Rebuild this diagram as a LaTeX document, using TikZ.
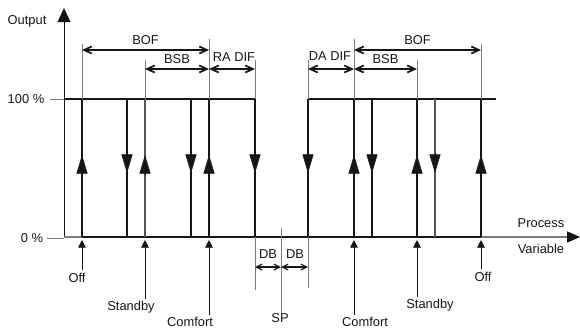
\documentclass[tikz,border=0pt]{standalone}
\usepackage{fontspec}
\setmainfont{Liberation Sans}
\usetikzlibrary{arrows.meta,calc}
\definecolor{inkblack}{RGB}{22,22,22}
\definecolor{guidegrey}{RGB}{125,125,125}

\begin{document}
\begin{tikzpicture}[x=0.03cm, y=-0.03cm,
  lbl/.style={font=\fontsize{11}{13}\selectfont, inner sep=0pt, text=inkblack},
  heavy/.style={line width=2.5pt, inkblack},
  guide/.style={line width=0.6pt, guidegrey},
  axisline/.style={line width=0.7pt, inkblack},
  dim/.style={{Straight Barb[length=6.5pt,width=6pt]}-{Straight Barb[length=6.5pt,width=6pt]},
              line width=1.5pt, inkblack},
  head/.style={-{Triangle[length=16pt,width=9.5pt]}, line width=0.4pt, inkblack},
  pin/.style={-{Triangle[length=6.5pt,width=6.5pt]}, line width=0.6pt, inkblack},
]
\useasboundingbox (0,0) rectangle (580,331);

% ---- axes ----
\coordinate (org) at (64,237);
\coordinate (ytop) at (64,8);
\coordinate (xend) at (580,237);
\draw[axisline, -{Triangle[length=12pt,width=11pt]}] (org) -- (ytop);
\draw[guide, line width=1pt, -{Triangle[length=11pt,width=9.5pt, inkblack]}] (org) -- (xend);

\node[lbl] (out)  at (27,21)  {Output};
\node[lbl] (full) at (26,99)  {100 \%};
\node[lbl] (zero) at (32,238) {0 \%};
\draw[guide] ($(full.east)+(5,0)$) -- (full.east -| org);
\draw[guide] ($(zero.east)+(4,0)$) -- (zero.east -| org);

\node[lbl] (pv)  at (541,223) {Process};
\node[lbl] (var) at (541,249) {Variable};

% ---- output levels ----
\draw[heavy] (64,99) -- (255,99);
\draw[heavy] (308,99) -- (496,99);
\draw[heavy] (82,237) -- (481,237);

% ---- switching lines: up = switch on, down = switch off ----
\foreach \x/\w/\c in {82/2.2pt/inkblack, 145/1.4pt/guidegrey!60!inkblack, 209/2.2pt/inkblack,
                      354/2.2pt/inkblack, 417/2.2pt/inkblack, 481/2.2pt/inkblack} {
  \draw[line width=\w, \c] (\x,237) -- (\x,99);
  \draw[head] (\x,175) -- (\x,155);
}
\foreach \x/\w/\c in {127/2pt/inkblack, 191/2pt/inkblack, 255/2pt/inkblack,
                      308/2.2pt/inkblack, 372/2pt/inkblack, 435/1.4pt/guidegrey!60!inkblack} {
  \draw[line width=\w, \c] (\x,99) -- (\x,237);
  \draw[head] (\x,153) -- (\x,173);
}

% ---- extension lines above the 100 % level ----
\foreach \x/\t in {82/44, 145/60, 209/39, 255/60, 308/60, 354/39, 417/60, 481/44}
  \draw[guide] (\x,99) -- (\x,\t);

% ---- band dimensions ----
\draw[dim] (82,50) -- node[lbl, above=4pt] (bofL) {BOF} (209,50);
\draw[dim] (145,69) -- node[lbl, above=4pt] (bsbL) {BSB} (209,69);
\draw[dim] (209,69) -- (255,69);
\node[lbl] (radif) at (234,57) {RA DIF};
\draw[dim] (308,69) -- (354,69);
\node[lbl] (dadif) at (330,56) {DA DIF};
\draw[dim] (354,69) -- node[lbl, above=4pt] (bsbR) {BSB} (417,69);
\draw[dim] (354,50) -- node[lbl, above=4pt] (bofR) {BOF} (481,50);

% ---- dead band around the set point ----
\draw[guide] (255,237) -- (255,290);
\draw[guide] (308,237) -- (308,288);
\node[lbl] (sp) at (280,318) {SP};
\draw[guide] (sp.north -| 281,0) -- (281,228);
\draw[{Straight Barb[length=5pt,width=5pt]}-{Straight Barb[length=5pt,width=5pt]}, line width=1pt, inkblack]
  (255,267) -- (281,267);
\draw[{Straight Barb[length=5pt,width=5pt]}-{Straight Barb[length=5pt,width=5pt]}, line width=1pt, inkblack]
  (281,267) -- (308,267);
\node[lbl] (dbL) at (268,254) {DB};
\node[lbl] (dbR) at (295,254) {DB};

% ---- operating modes below the axis ----
\coordinate (offA) at (82,240);
\coordinate (stbA) at (145,240);
\coordinate (comA) at (209,240);
\coordinate (comB) at (354,240);
\coordinate (stbB) at (417,240);
\coordinate (offB) at (481,240);

\node[lbl] (offL) at (77,278)  {Off};
\node[lbl] (stbL) at (131,307) {Standby};
\node[lbl] (comL) at (190,322) {Comfort};
\node[lbl] (comR) at (365,322) {Comfort};
\node[lbl] (stbR) at (430,305) {Standby};
\node[lbl] (offR) at (483,277) {Off};

\draw[pin] ($(offL.north -| offA)+(0,-3)$) -- (offA);
\draw[pin] ($(stbL.north -| stbA)+(0,-2)$) -- (stbA);
\draw[pin] ($(comL.north -| comA)+(0,-2)$) -- (comA);
\draw[pin] ($(comR.north -| comB)+(0,-2)$) -- (comB);
\draw[pin] ($(stbR.north -| stbB)+(0,-2)$) -- (stbB);
\draw[pin] ($(offR.north -| offB)+(0,-3)$) -- (offB);

\end{tikzpicture}
\end{document}
